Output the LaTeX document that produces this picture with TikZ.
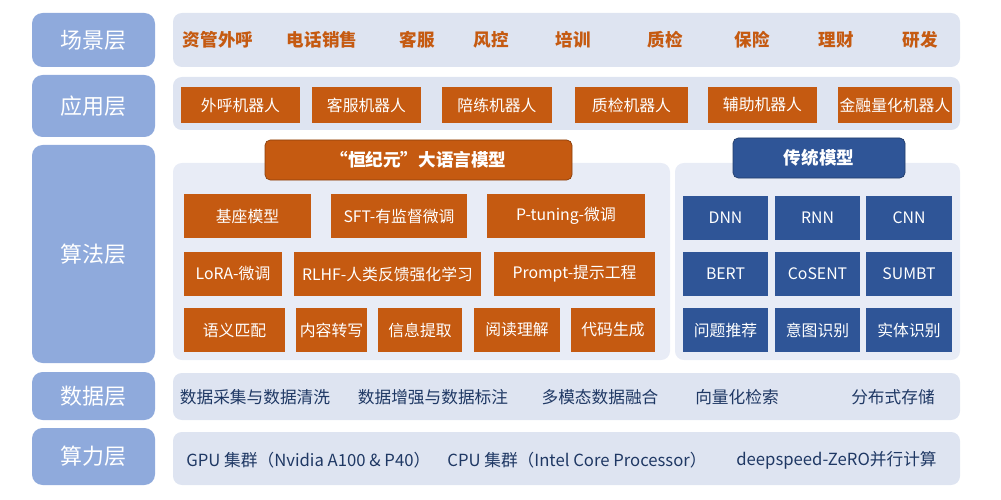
\documentclass[tikz,border=0pt]{standalone}
\usepackage{fontspec}
\setmainfont{Noto Sans CJK SC}
\usepackage{tikz}
\begin{document}
\begin{tikzpicture}[x=0.02cm, y=-0.02cm, every node/.style={font=\fontsize{9}{10}\selectfont}]
    % Define colors
    \definecolor{layerblue}{RGB}{143,170,220}
    \definecolor{panelgray}{RGB}{222,228,241}
    \definecolor{panelwhite}{RGB}{232,236,246}
    \definecolor{llmorange}{RGB}{197,90,17}
    \definecolor{tradblue}{RGB}{47,85,151}
    \definecolor{navytext}{RGB}{31,56,100}
    \tikzset{
        layerbox/.style={fill=layerblue, draw=none, rounded corners=6pt},
        panel/.style={fill=panelgray, draw=none, rounded corners=5pt},
        obox/.style={fill=llmorange, draw=none},
        bbox/.style={fill=tradblue, draw=none},
        wtxt/.style={text=white},
        ltxt/.style={text=white, font=\fontsize{12.5}{14}\selectfont},
        otxt/.style={text=llmorange, font=\fontsize{10}{12}\selectfont\bfseries},
        ntxt/.style={text=navytext, font=\fontsize{9.5}{11}\selectfont}
    }
    \useasboundingbox (0,0) rectangle (1001,500);

    % Layer labels
    \draw[layerbox] (32,13) rectangle (155,67) node[midway, ltxt] (scene) {场景层};
    \draw[layerbox] (32,75) rectangle (155,137) node[midway, ltxt] (app) {应用层};
    \draw[layerbox] (32,145) rectangle (155,363) node[midway, ltxt] (algo) {算法层};
    \draw[layerbox] (32,372) rectangle (155,420) node[midway, ltxt] (data) {数据层};
    \draw[layerbox] (32,428) rectangle (155,485) node[midway, ltxt] (comp) {算力层};

    % Scene row
    \draw[panel] (173,13) rectangle (960,67);
    \foreach \x/\t in {218/资管外呼, 322/电话销售, 417/客服, 491/风控, 573/培训,
                       665/质检, 752/保险, 836/理财, 920/研发}
        \node[otxt] (s\x) at (\x,40) {\t};

    % Application row
    \draw[panel] (173,77) rectangle (960,130);
    \draw[obox] (181,87) rectangle (300,123) node[midway, wtxt] (a1) {外呼机器人};
    \draw[obox] (312,87) rectangle (421,123) node[midway, wtxt] (a2) {客服机器人};
    \draw[obox] (442,87) rectangle (552,123) node[midway, wtxt] (a3) {陪练机器人};
    \draw[obox] (575,87) rectangle (688,123) node[midway, wtxt] (a4) {质检机器人};
    \draw[obox] (708,87) rectangle (817,123) node[midway, wtxt] (a5) {辅助机器人};
    \draw[obox] (838,87) rectangle (952,123) node[midway, wtxt] (a6) {金融量化机器人};

    % Algorithm panels
    \draw[panel, fill=panelwhite] (173,163) rectangle (670,360);
    \draw[panel, fill=panelwhite] (675,163) rectangle (960,360);
    \draw[obox, draw=llmorange!70!black, rounded corners=3pt] (265,140) rectangle (572,180)
        node[midway, wtxt, font=\fontsize{10}{12}\selectfont\bfseries] (llm) {“恒纪元”大语言模型};
    \draw[bbox, draw=tradblue!70!black, rounded corners=3pt] (733,138) rectangle (905,178)
        node[midway, wtxt, font=\fontsize{10}{12}\selectfont\bfseries] (trad) {传统模型};

    % LLM boxes
    \draw[obox] (184,194) rectangle (311,238) node[midway, wtxt] (m1) {基座模型};
    \draw[obox] (331,194) rectangle (467,238) node[midway, wtxt] (m2) {SFT-有监督微调};
    \draw[obox] (487,194) rectangle (645,238) node[midway, wtxt] (m3) {P-tuning-微调};
    \draw[obox] (184,252) rectangle (282,296) node[midway, wtxt] (m4) {LoRA-微调};
    \draw[obox] (294,252) rectangle (481,296) node[midway, wtxt] (m5) {RLHF-人类反馈强化学习};
    \draw[obox] (494,252) rectangle (655,296) node[midway, wtxt] (m6) {Prompt-提示工程};
    \draw[obox] (184,308) rectangle (285,352) node[midway, wtxt] (m7) {语义匹配};
    \draw[obox] (296,308) rectangle (367,352) node[midway, wtxt] (m8) {内容转写};
    \draw[obox] (378,308) rectangle (462,352) node[midway, wtxt] (m9) {信息提取};
    \draw[obox] (474,308) rectangle (560,352) node[midway, wtxt] (m10) {阅读理解};
    \draw[obox] (571,308) rectangle (655,352) node[midway, wtxt] (m11) {代码生成};

    % Traditional model boxes
    \foreach \y/\a/\b/\c [count=\r] in {196/DNN/RNN/CNN, 252/BERT/CoSENT/SUMBT, 308/问题推荐/意图识别/实体识别} {
        \draw[bbox] (683,\y) rectangle (768,\y+44) node[midway, wtxt] (t\r a) {\a};
        \draw[bbox] (775,\y) rectangle (860,\y+44) node[midway, wtxt] (t\r b) {\b};
        \draw[bbox] (866,\y) rectangle (952,\y+44) node[midway, wtxt] (t\r c) {\c};
    }

    % Data row
    \draw[panel] (173,373) rectangle (960,420);
    \node[ntxt] (d1) at (255,397) {数据采集与数据清洗};
    \node[ntxt] (d2) at (433,397) {数据增强与数据标注};
    \node[ntxt] (d3) at (600,397) {多模态数据融合};
    \node[ntxt] (d4) at (737,397) {向量化检索};
    \node[ntxt] (d5) at (893,397) {分布式存储};

    % Compute row
    \draw[panel] (173,432) rectangle (960,485);
    \node[ntxt, anchor=west, inner xsep=0pt] (c1) at (186,460) {GPU 集群（Nvidia A100 \& P40）};
    \node[ntxt, anchor=west, inner xsep=0pt] (c2) at (447,460) {CPU 集群（Intel Core Processor）};
    \node[ntxt, anchor=west, inner xsep=0pt] (c3) at (736,460) {deepspeed-ZeRO并行计算};
\end{tikzpicture}
\end{document}
